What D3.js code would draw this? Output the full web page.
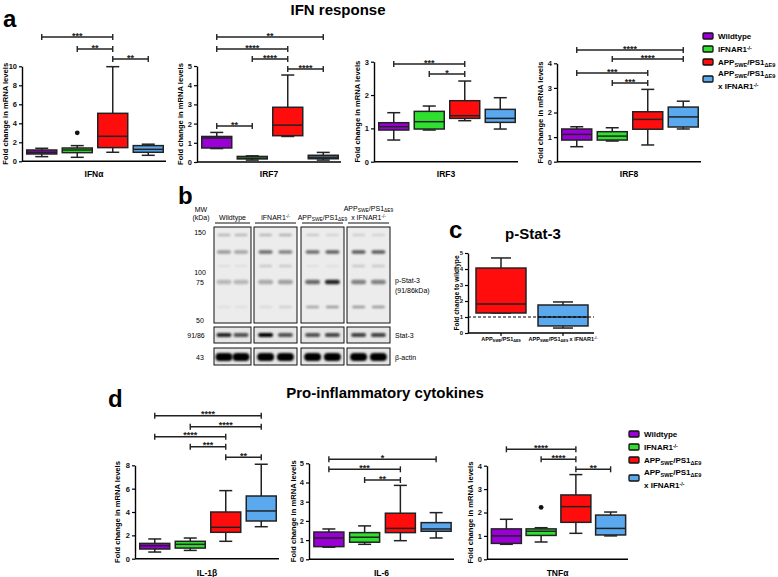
<!DOCTYPE html>
<html><head><meta charset="utf-8">
<script src="https://cdn.jsdelivr.net/npm/d3@7"></script>
<style>
body{margin:0;background:#fff;}
svg text{font-family:"Liberation Sans",Arial,sans-serif;}
</style></head>
<body><div id="chart"></div>
<script>
// ---------- DATA ----------
const groups = ["Wildtype", "IFNAR1-/-", "APPswe/PS1ΔE9", "APPswe/PS1ΔE9 x IFNAR1-/-"];
const groupColors = ["#9a00d6", "#30e030", "#ff0d0d", "#5aa8ee"];
// each box: [whiskerLow, q1, median, q3, whiskerHigh]
const ifnaBoxes = [[0.49,0.77,0.95,1.19,1.37],[0.42,0.91,1.19,1.40,1.65],[0.95,1.44,2.63,5.05,9.96],[0.63,0.95,1.26,1.65,1.80]];
const ifnaOutliers = [[1, 3.0]];
const irf7Boxes = [[0.70,0.73,1.25,1.33,1.54],[0.10,0.16,0.20,0.29,0.32],[1.33,1.37,1.92,2.85,4.53],[0.10,0.17,0.25,0.35,0.50]];
const irf3Boxes = [[0.65,0.95,1.05,1.17,1.47],[0.95,0.98,1.20,1.51,1.67],[1.23,1.30,1.38,1.83,2.42],[0.98,1.18,1.30,1.57,1.92]];
const irf8Boxes = [[0.61,0.88,1.11,1.33,1.42],[0.84,0.88,1.04,1.22,1.38],[0.68,1.32,1.72,2.03,2.94],[1.33,1.41,1.82,2.22,2.46]];
const il1bBoxes = [[0.57,0.83,1.11,1.31,1.69],[0.71,0.91,1.23,1.49,1.77],[1.49,2.26,2.69,4.00,5.83],[2.74,3.23,4.09,5.37,8.09]];
const il6Boxes = [[0.63,0.66,1.11,1.42,1.58],[0.78,0.89,1.15,1.39,1.74],[0.97,1.39,1.61,2.40,3.85],[1.11,1.46,1.58,1.91,2.43]];
const tnfBoxes = [[0.64,0.68,1.00,1.30,1.71],[0.74,1.02,1.20,1.30,1.35],[1.11,1.58,2.25,2.75,3.62],[1.00,1.04,1.32,1.89,2.02]];
const tnfOutliers = [[1, 2.22]];
const pstatBoxes = [[1.25,1.25,1.81,4.06,4.69],[0.31,0.44,1.00,1.75,1.94]];
// significance brackets: [fromGroup, toGroup, label]
const ifnaSig = [[0,2,"***"],[1,2,"**"],[2,3,"**"]];
const irf7Sig = [[0,3,"**"],[0,2,"****"],[1,2,"****"],[2,3,"****"],[0,1,"**"]];
const irf3Sig = [[0,2,"***"],[1,2,"*"]];
const irf8Sig = [[0,3,"****"],[1,3,"****"],[0,2,"***"],[1,2,"***"]];
const il1bSig = [[0,3,"****"],[1,3,"****"],[0,2,"****"],[1,2,"***"],[2,3,"**"]];
const il6Sig = [[0,3,"*"],[0,2,"***"],[1,2,"**"]];
const tnfSig = [[0,2,"****"],[1,2,"****"],[2,3,"**"]];
// tick labels
const ifnaTicks = [0,2,4,6,8,10];
const irf7Ticks = [0,1,2,3,4,5];
const irf3Ticks = [0,1,2,3];
const irf8Ticks = [0,1,2,3,4];
const il1bTicks = [0,2,4,6,8];
const il6Ticks = [0,1,2,3,4,5];
const tnfTicks = [0,1,2,3,4];
const pstatTicks = [0,1,2,3,4,5];
// western blot
const blotGroups = ["Wildtype", "IFNAR1-/-", "APPswe/PS1ΔE9", "APPswe/PS1ΔE9 x IFNAR1-/-"];
const mwLabels = ["150", "100", "75", "50"];
const band150 = [0.22,0.22,0.22,0.25,0.15,0.10,0.12,0.10];
const band125 = [0.35,0.30,0.55,0.45,0.55,0.60,0.62,0.62];
const band110 = [0.05,0.05,0.15,0.15,0.05,0.05,0.15,0.15];
const bandPStat3 = [0.22,0.22,0.28,0.32,0.55,0.85,0.45,0.45];
const band60 = [0.05,0.05,0.08,0.12,0.30,0.35,0.35,0.35];
const bandStat3 = [0.85,0.65,1.0,0.65,0.65,0.70,0.72,0.72];
const bandActin = [1,1,1,1,1,1,1,1];

// ---------- DRAW ----------
const W = 778, H = 577;
const svg = d3.select("#chart").append("svg").attr("width", W).attr("height", H);
const FONT = '"Liberation Sans",Arial,sans-serif';

const defs = svg.append("defs");
defs.append("filter").attr("id","blur").attr("x","-50%").attr("y","-200%").attr("width","200%").attr("height","500%")
  .append("feGaussianBlur").attr("stdDeviation", 1.1);

function richText(sel, segs, size) {
  segs.forEach(([t, k]) => {
    const ts = sel.append("tspan").text(t);
    if (k === "sub") ts.attr("font-size", size*0.7).attr("baseline-shift", "-25%");
    if (k === "sup") ts.attr("font-size", size*0.65).attr("baseline-shift", "45%");
  });
}
const labelSegs = [
  [["Wildtype"]],
  [["IFNAR1"],["-/-","sup"]],
  [["APP"],["SWE","sub"],["/PS1"],["ΔE9","sub"]],
  [["APP"],["SWE","sub"],["/PS1"],["ΔE9","sub"]]
];

function boxPanel(cfg, boxes, ticks, sig, sigY, outliers, xlabel) {
  const g = svg.append("g");
  const y = d3.scaleLinear().domain([0, ticks[ticks.length-1]]).range([cfg.y0, cfg.ytop]);
  const x = d3.scaleBand().domain(d3.range(boxes.length)).range([cfg.ax + 2, cfg.xend]).paddingInner(0).paddingOuter(0);
  const bw = cfg.bw || 30, cap = cfg.cap || 13;
  const ya = g.append("g").attr("transform", `translate(${cfg.ax},0)`)
    .call(d3.axisLeft(y).tickValues(ticks).tickFormat(d3.format("d")).tickSize(3).tickSizeOuter(0).tickPadding(2));
  ya.select(".domain").attr("stroke-width", 1.4).attr("stroke", "#000");
  ya.selectAll(".tick line").attr("stroke-width", 1.2).attr("stroke", "#000");
  ya.selectAll(".tick text").attr("font-size", cfg.tickFs || 7.5).attr("font-weight", "bold").attr("font-family", FONT).attr("fill", "#111");
  g.append("line").attr("x1", cfg.ax).attr("x2", cfg.xend).attr("y1", cfg.y0).attr("y2", cfg.y0)
    .attr("stroke", "#000").attr("stroke-width", 1.4);
  boxes.forEach((b, i) => {
    const cx = x(i) + x.bandwidth()/2;
    const col = cfg.colors ? cfg.colors[i] : groupColors[i];
    const s = g.append("g").attr("stroke", "#222").attr("stroke-width", 1.5);
    s.append("line").attr("x1", cx).attr("x2", cx).attr("y1", y(b[4])).attr("y2", y(b[3]));
    s.append("line").attr("x1", cx).attr("x2", cx).attr("y1", y(b[1])).attr("y2", y(b[0]));
    s.append("line").attr("x1", cx-cap/2).attr("x2", cx+cap/2).attr("y1", y(b[4])).attr("y2", y(b[4]));
    s.append("line").attr("x1", cx-cap/2).attr("x2", cx+cap/2).attr("y1", y(b[0])).attr("y2", y(b[0]));
    s.append("rect").attr("x", cx-bw/2).attr("width", bw).attr("y", y(b[3])).attr("height", Math.max(1, y(b[1]) - y(b[3])))
      .attr("fill", col);
    s.append("line").attr("x1", cx-bw/2).attr("x2", cx+bw/2).attr("y1", y(b[2])).attr("y2", y(b[2]));
    if (cfg.xticks) g.append("line").attr("x1", cx).attr("x2", cx).attr("y1", cfg.y0).attr("y2", cfg.y0+3).attr("stroke","#000").attr("stroke-width",1.2);
  });
  (outliers || []).forEach(([i, v]) => {
    g.append("circle").attr("cx", x(i) + x.bandwidth()/2).attr("cy", y(v)).attr("r", 2.4).attr("fill", "#111");
  });
  (sig || []).forEach(([a, b, lab], k) => {
    const x1 = x(a) + x.bandwidth()/2, x2 = x(b) + x.bandwidth()/2, yy = sigY[k];
    const s = g.append("g").attr("stroke", "#222").attr("stroke-width", 1.4);
    s.append("line").attr("x1", x1).attr("x2", x2).attr("y1", yy).attr("y2", yy);
    s.append("line").attr("x1", x1).attr("x2", x1).attr("y1", yy-3).attr("y2", yy+3);
    s.append("line").attr("x1", x2).attr("x2", x2).attr("y1", yy-3).attr("y2", yy+3);
    g.append("text").attr("x", (x1+x2)/2).attr("y", yy+1.5).attr("text-anchor", "middle")
      .attr("font-size", 9).attr("font-weight", "bold").attr("fill", "#222").text(lab);
  });
  const ymid = (cfg.y0 + cfg.ytop)/2;
  g.append("text").attr("transform", `translate(${cfg.ax - cfg.ylOff},${ymid}) rotate(-90)`)
    .attr("text-anchor", "middle").attr("dy", "0.35em").attr("font-size", cfg.ylFs || 7.6).attr("font-weight", "bold")
    .text(cfg.ylabel || "Fold change in mRNA levels");
  if (xlabel) g.append("text").attr("x", (cfg.ax + cfg.xend)/2).attr("y", cfg.xlY).attr("text-anchor", "middle")
    .attr("font-size", 8.5).attr("font-weight", "bold").text(xlabel);
  return {x, y, g};
}

function bold(x, y, size, t, anchor) {
  return svg.append("text").attr("x", x).attr("y", y).attr("font-size", size).attr("font-weight", "bold")
    .attr("text-anchor", anchor || "start").text(t);
}
bold(338, 15, 15, "IFN response", "middle");
bold(3, 27, 24, "a");
bold(178, 204, 24, "b");
bold(449, 238, 24, "c");
bold(108, 407, 24, "d");
bold(533, 239, 15, "p-Stat-3", "middle");
bold(385, 398, 15, "Pro-inflammatory cytokines", "middle");

// panel a
boxPanel({ax:22, y0:161.3, ytop:66.3, xend:166, ylOff:17, xlY:177}, ifnaBoxes, ifnaTicks, ifnaSig, [37,49,59], ifnaOutliers, "IFNα");
boxPanel({ax:197, y0:162, ytop:66, xend:341, ylOff:17, xlY:177}, irf7Boxes, irf7Ticks, irf7Sig, [37,49,59,69,126], null, "IRF7");
boxPanel({ax:374, y0:161.7, ytop:61.7, xend:518, ylOff:17, xlY:177}, irf3Boxes, irf3Ticks, irf3Sig, [64,74], null, "IRF3");
boxPanel({ax:557, y0:161.7, ytop:63.3, xend:701, ylOff:17, xlY:177}, irf8Boxes, irf8Ticks, irf8Sig, [50,59,73,83], null, "IRF8");

// panel d
boxPanel({ax:135, y0:558.7, ytop:465.3, xend:279, ylOff:18, xlY:576}, il1bBoxes, il1bTicks, il1bSig, [415.7,426.7,436.7,446.7,457.3], null, "IL-1β");
boxPanel({ax:309, y0:559.3, ytop:463.3, xend:454, ylOff:16, xlY:576}, il6Boxes, il6Ticks, il6Sig, [459.3,469.3,480], null, "IL-6");
boxPanel({ax:487, y0:559.3, ytop:465.7, xend:628, ylOff:17, xlY:576}, tnfBoxes, tnfTicks, tnfSig, [449.3,459.3,469.3], tnfOutliers, "TNFα");

// panel c
const pc = boxPanel({ax:468, y0:333, ytop:253, xend:594, ylOff:11, ylFs:6.6, tickFs:6, bw:50, cap:20, xticks:true,
  ylabel:"Fold change to wildtype", colors:[groupColors[2], groupColors[3]]}, pstatBoxes, pstatTicks, null, null, null, null);
pc.g.append("line").attr("x1", 468).attr("x2", 594).attr("y1", pc.y(1)).attr("y2", pc.y(1))
  .attr("stroke", "#000").attr("stroke-width", 1).attr("stroke-dasharray", "3,2");
[[["APP"],["SWE","sub"],["/PS1"],["ΔE9","sub"]], [["APP"],["SWE","sub"],["/PS1"],["ΔE9","sub"],[" x IFNAR1"],["-/-","sup"]]]
  .forEach((segs, i) => {
    const t = pc.g.append("text").attr("x", pc.x(i) + pc.x.bandwidth()/2).attr("y", 341).attr("text-anchor", "middle")
      .attr("font-size", 5.5).attr("font-weight", "bold");
    richText(t, segs, 5.5);
  });

// legends
function legend(sx, ys, textYs) {
  groups.forEach((gname, i) => {
    svg.append("rect").attr("x", sx).attr("y", ys[i]-3).attr("width", 10).attr("height", 6).attr("rx", 1)
      .attr("fill", groupColors[i]).attr("stroke", "#111").attr("stroke-width", 1.3);
    const t = svg.append("text").attr("x", sx + 15).attr("y", textYs[i][0]).attr("font-size", 8).attr("font-weight", "bold");
    richText(t, labelSegs[i], 8);
    if (i === 3) {
      const t2 = svg.append("text").attr("x", sx + 15).attr("y", textYs[i][1]).attr("font-size", 8).attr("font-weight", "bold");
      richText(t2, [["x IFNAR1"],["-/-","sup"]], 8);
    }
  });
}
legend(703, [36,49,62,79], [[39],[52],[65],[76,89]]);
legend(629, [434,447,460,478], [[437],[450],[463],[475,488]]);

// panel b: western blot
const blot = svg.append("g").attr("font-size", 7);
const bpanels = [[214,251],[254,297],[301,344],[347,390]];
const strips = [[227,323],[327,343],[348,365]];
const lanes = [];
bpanels.forEach(([a,b]) => { lanes.push(a + (b-a)*0.27, a + (b-a)*0.73); });
bpanels.forEach(([a,b]) => {
  strips.forEach(([t,bt], k) => {
    blot.append("rect").attr("x", a).attr("y", t).attr("width", b-a).attr("height", bt-t)
      .attr("fill", k === 0 ? "#ececec" : "#e6e6e6").attr("stroke", "#111").attr("stroke-width", 1);
  });
});
function bands(arr, yc, h, w) {
  arr.forEach((v, i) => {
    if (v <= 0) return;
    blot.append("rect").attr("x", lanes[i]-w/2).attr("y", yc-h/2).attr("width", w).attr("height", h).attr("rx", h/2)
      .attr("fill", "#000").attr("opacity", v).attr("filter", "url(#blur)");
  });
}
bands(band150, 235, 2.5, 13);
bands(band125, 252, 3.5, 14);
bands(band110, 266, 2.5, 13);
bands(bandPStat3, 282, 4.5, 15);
bands(band60, 307, 2.5, 13);
bands(bandStat3, 335, 4, 15);
bands(bandActin, 357, 8, 17);
const hdr = [[["Wildtype"]],[["IFNAR1"],["-/-","sup"]],[["APP"],["SWE","sub"],["/PS1"],["ΔE9","sub"]]];
bpanels.forEach(([a,b], i) => {
  blot.append("line").attr("x1", a+1).attr("x2", b-1).attr("y1", 223).attr("y2", 223).attr("stroke", "#111").attr("stroke-width", 1);
  if (i < 3) {
    const t = blot.append("text").attr("x", (a+b)/2).attr("y", 220).attr("text-anchor", "middle");
    richText(t, hdr[i], 7);
  } else {
    const t1 = blot.append("text").attr("x", (a+b)/2).attr("y", 211).attr("text-anchor", "middle");
    richText(t1, hdr[2], 7);
    const t2 = blot.append("text").attr("x", (a+b)/2).attr("y", 220).attr("text-anchor", "middle");
    richText(t2, [["x IFNAR1"],["-/-","sup"]], 7);
  }
});
blot.append("text").attr("x", 201).attr("y", 212).attr("text-anchor", "middle").text("MW");
blot.append("text").attr("x", 201).attr("y", 220).attr("text-anchor", "middle").text("(kDa)");
[[mwLabels[0],235],[mwLabels[1],275],[mwLabels[2],285],[mwLabels[3],323]].forEach(([t, yy]) =>
  blot.append("text").attr("x", 200).attr("y", yy).attr("text-anchor", "middle").text(t));
blot.append("text").attr("x", 196).attr("y", 338).attr("text-anchor", "middle").text("91/86");
blot.append("text").attr("x", 200).attr("y", 360).attr("text-anchor", "middle").text("43");
blot.append("text").attr("x", 395).attr("y", 283).text("p-Stat-3");
blot.append("text").attr("x", 395).attr("y", 293).text("(91/86kDa)");
blot.append("text").attr("x", 395).attr("y", 338).text("Stat-3");
blot.append("text").attr("x", 395).attr("y", 360).text("β-actin");
</script>
</body></html>
